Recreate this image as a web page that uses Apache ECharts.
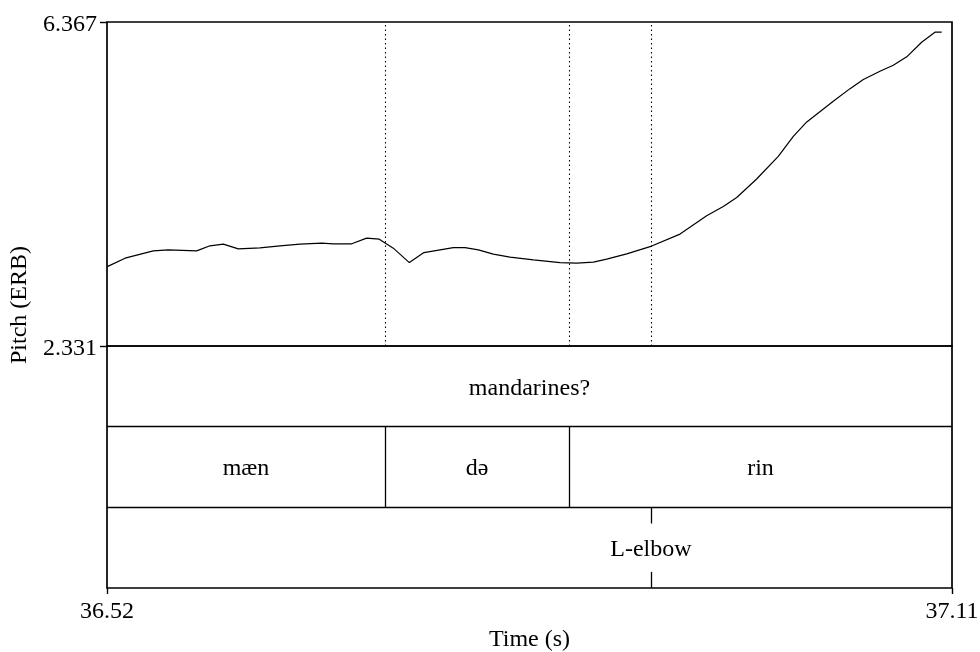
<!DOCTYPE html>
<html>
<head>
<meta charset="utf-8">
<script src="https://cdn.jsdelivr.net/npm/echarts@6/dist/echarts.min.js"></script>
<style>
  html, body { margin: 0; padding: 0; background: #fff; }
  #chart { width: 980px; height: 652px; }
</style>
</head>
<body>
<div id="chart"></div>
<script>
// Time span of the excerpt (s) and pitch range (ERB)
const timeRange = [36.52, 37.11];
const pitchRange = [2.331, 6.367];

// Pitch track: sample times (s) and pitch values (ERB)
const pitchTimes = [
  36.5202, 36.5326, 36.5523, 36.5628, 36.5826, 36.5919, 36.6012, 36.6117,
  36.6268, 36.6408, 36.6548, 36.6699, 36.6780, 36.6909, 36.7013, 36.7101,
  36.7199, 36.7311, 36.7413, 36.7618, 36.7700, 36.7793, 36.7897, 36.8014,
  36.8177, 36.8363, 36.8480, 36.8596, 36.8689, 36.8829, 36.9003, 36.9201,
  36.9387, 36.9503, 36.9597, 36.9736, 36.9887, 36.9992, 37.0086, 37.0271,
  37.0388, 37.0481, 37.0597, 37.0690, 37.0784, 37.0888, 37.0981, 37.1028
];
const pitchErb = [
  3.320, 3.425, 3.516, 3.529, 3.516, 3.579, 3.600, 3.541,
  3.554, 3.579, 3.600, 3.612, 3.604, 3.604, 3.675, 3.662,
  3.550, 3.370, 3.495, 3.557, 3.557, 3.529, 3.475, 3.438,
  3.404, 3.370, 3.363, 3.375, 3.413, 3.479, 3.576, 3.725,
  3.953, 4.069, 4.181, 4.411, 4.693, 4.942, 5.122, 5.379,
  5.537, 5.650, 5.753, 5.828, 5.933, 6.115, 6.240, 6.240
];

// Word tier (interval tier)
const wordBounds = [36.52, 37.11];
const wordLabels = ['mandarines?'];

// Syllable tier (interval tier)
const syllableBounds = [36.52, 36.7141, 36.8426, 37.11];
const syllableLabels = ['mæn', 'də', 'rin'];

// Tone tier (point tier)
const tonePoints = [36.8998];
const toneLabels = ['L-elbow'];

// Tick labels
const timeTicks = [36.52, 37.11];
const pitchTicks = [2.331, 6.367];

const FONT = "'Liberation Serif', 'Times New Roman', serif";
const INK = '#000';

// Tier rows in the lower grid: y from 3 (top) down to 0 (bottom)
const WORD_ROW = 2, SYL_ROW = 1, TONE_ROW = 0;
const POINT_MARK = 0.2; // fraction of a row covered by each point tick

const pitchLine = pitchTimes.map((t, i) => [t, pitchErb[i]]);

// Interior boundaries of the interval tiers and all point times,
// projected as dotted guides over the pitch panel
const interior = syllableBounds.slice(1, -1);
const guides = interior.concat(tonePoints);

function rowLabels(bounds, labels, row) {
  return labels.map((name, i) => ({
    value: [(bounds[i] + bounds[i + 1]) / 2, row + 0.5],
    name: name
  }));
}

const tierLines = [];
// horizontal separators between tiers
[SYL_ROW + 1, TONE_ROW + 1].forEach(r => {
  tierLines.push([{ coord: [timeRange[0], r] }, { coord: [timeRange[1], r] }]);
});
// syllable boundaries
interior.forEach(t => {
  tierLines.push([{ coord: [t, SYL_ROW] }, { coord: [t, SYL_ROW + 1] }]);
});
// point-tier ticks (top and bottom of the row)
tonePoints.forEach(t => {
  tierLines.push([{ coord: [t, TONE_ROW + 1] }, { coord: [t, TONE_ROW + 1 - POINT_MARK] }]);
  tierLines.push([{ coord: [t, TONE_ROW + POINT_MARK] }, { coord: [t, TONE_ROW] }]);
});

const tierText = []
  .concat(rowLabels(wordBounds, wordLabels, WORD_ROW))
  .concat(rowLabels(syllableBounds, syllableLabels, SYL_ROW))
  .concat(tonePoints.map((t, i) => ({ value: [t, TONE_ROW + 0.5], name: toneLabels[i] })));

const guideLines = guides.map(t => [
  { coord: [t, pitchRange[0]] },
  { coord: [t, pitchRange[1]] }
]);

const chart = echarts.init(document.getElementById('chart'), null, { renderer: 'canvas' });

const gridBase = {
  left: 107, width: 845, show: true, borderColor: INK, borderWidth: 1.7,
  backgroundColor: 'transparent', containLabel: false, outerBoundsMode: 'none'
};

chart.setOption({
  animation: false,
  backgroundColor: '#fff',
  grid: [
    Object.assign({}, gridBase, { top: 22, height: 324 }),
    Object.assign({}, gridBase, { top: 346, height: 242 })
  ],
  xAxis: [
    {
      gridIndex: 0, type: 'value', min: timeRange[0], max: timeRange[1],
      show: false
    },
    {
      gridIndex: 1, type: 'value', min: timeRange[0], max: timeRange[1],
      axisLine: { show: false },
      splitLine: { show: false },
      axisTick: { show: true, customValues: timeTicks, length: 6, lineStyle: { color: INK, width: 1.4 } },
      axisLabel: {
        customValues: timeTicks, margin: 12, color: INK, fontFamily: FONT, fontSize: 24,
        formatter: v => v.toFixed(2)
      },
      name: 'Time (s)', nameLocation: 'middle', nameGap: 40,
      nameTextStyle: { color: INK, fontFamily: FONT, fontSize: 24 }
    }
  ],
  yAxis: [
    {
      gridIndex: 0, type: 'value', min: pitchRange[0], max: pitchRange[1],
      axisLine: { show: false },
      splitLine: { show: false },
      axisTick: { show: true, customValues: pitchTicks, length: 7, lineStyle: { color: INK, width: 1.4 } },
      axisLabel: {
        customValues: pitchTicks, margin: 10, color: INK, fontFamily: FONT, fontSize: 24,
        formatter: v => '{v|' + v.toFixed(3) + '}',
        rich: {
          v: { fontFamily: FONT, fontSize: 24, color: INK, padding: [6, 0, 0, 0] }
        }
      }
    },
    {
      gridIndex: 1, type: 'value', min: 0, max: 3, show: false
    }
  ],
  graphic: [{
    type: 'text',
    x: 20, y: 305,
    rotation: Math.PI / 2,
    style: {
      text: 'Pitch (ERB)', fontFamily: FONT, fontSize: 24, fill: INK,
      align: 'center', verticalAlign: 'middle'
    },
    z: 10
  }],
  series: [
    {
      type: 'line', xAxisIndex: 0, yAxisIndex: 0,
      data: pitchLine, showSymbol: false, symbol: 'none',
      lineStyle: { color: INK, width: 1.2 },
      silent: true
    },
    {
      // dotted guides over the pitch panel
      type: 'scatter', xAxisIndex: 0, yAxisIndex: 0,
      data: [], silent: true,
      markLine: {
        symbol: 'none', silent: true, label: { show: false },
        lineStyle: { color: INK, width: 1.1, type: [1.5, 3] },
        data: guideLines
      }
    },
    {
      type: 'scatter', xAxisIndex: 1, yAxisIndex: 1,
      data: tierText, symbolSize: 0, silent: true,
      itemStyle: { opacity: 1 },
      label: {
        show: true, position: 'inside', formatter: p => p.name,
        color: INK, fontFamily: FONT, fontSize: 24, offset: [0, 2]
      },
      markLine: {
        symbol: 'none', silent: true, label: { show: false },
        lineStyle: { color: INK, width: 1.3, type: 'solid' },
        data: tierLines
      }
    }
  ]
});
</script>
</body>
</html>
